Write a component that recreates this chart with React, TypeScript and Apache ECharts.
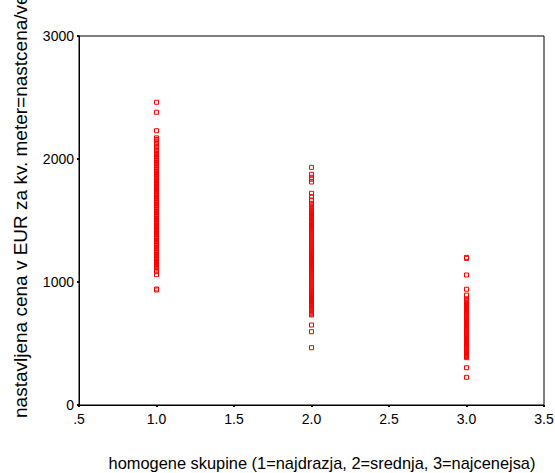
import React, { useEffect, useRef } from "react";
import * as echarts from "echarts";

const xTitle = "homogene skupine (1=najdrazja, 2=srednja, 3=najcenejsa)";
const yTitle = "nastavljena cena v EUR za kv. meter=nastcena/ve";

const xTickValues = [0.5, 1, 1.5, 2, 2.5, 3, 3.5];
const xTickLabels = [".5", "1.0", "1.5", "2.0", "2.5", "3.0", "3.5"];
const yTickValues = [0, 1000, 2000, 3000];
const yTickLabels = ["0", "1000", "2000", "3000"];

const groups = [1, 2, 3];

const group1Prices = [
  2461, 2380, 2230, 2172, 2158, 2147, 2131, 2122, 2105, 2097, 2081, 2069, 2058,
  2044, 2037, 2026, 2019, 2008, 2002, 1991, 1986, 1975, 1967, 1961, 1950, 1944,
  1933, 1927, 1917, 1911, 1900, 1894, 1884, 1875, 1869, 1858, 1852, 1841, 1836,
  1825, 1819, 1809, 1800, 1794, 1783, 1777, 1766, 1761, 1750, 1742, 1736, 1725,
  1719, 1708, 1703, 1692, 1684, 1678, 1667, 1661, 1650, 1645, 1634, 1625, 1619,
  1608, 1602, 1591, 1586, 1575, 1567, 1561, 1550, 1544, 1533, 1528, 1517, 1509,
  1503, 1492, 1486, 1475, 1470, 1459, 1450, 1444, 1433, 1427, 1416, 1411, 1400,
  1392, 1386, 1375, 1369, 1358, 1353, 1342, 1334, 1328, 1317, 1311, 1300, 1295,
  1284, 1275, 1269, 1258, 1252, 1241, 1236, 1225, 1217, 1211, 1200, 1194, 1183,
  1178, 1167, 1159, 1153, 1142, 1136, 1125, 1118, 1106, 1084, 1059, 943, 935,
];

const group2Prices = [
  1932, 1876, 1851, 1835, 1813, 1721, 1693, 1667, 1640, 1628, 1619, 1611, 1602,
  1594, 1583, 1577, 1566, 1558, 1550, 1541, 1533, 1525, 1516, 1501, 1492, 1484,
  1475, 1467, 1458, 1450, 1442, 1433, 1425, 1417, 1408, 1400, 1391, 1383, 1375,
  1366, 1358, 1350, 1341, 1333, 1325, 1316, 1308, 1300, 1291, 1283, 1275, 1266,
  1258, 1250, 1241, 1233, 1225, 1216, 1208, 1200, 1191, 1183, 1175, 1166, 1158,
  1150, 1141, 1133, 1125, 1116, 1108, 1100, 1091, 1083, 1075, 1066, 1058, 1050,
  1041, 1033, 1025, 1016, 1008, 1000, 991, 983, 975, 966, 958, 950, 941, 933,
  925, 916, 908, 900, 891, 883, 875, 866, 858, 850, 841, 835, 826, 818, 809, 805,
  797, 789, 780, 772, 764, 755, 747, 739, 732, 650, 596, 466,
];

const group3Prices = [
  1200, 1192, 1057, 941, 894, 862, 853, 847, 838, 831, 823, 816, 808, 800, 793,
  786, 777, 770, 762, 754, 747, 739, 731, 724, 716, 708, 701, 693, 685, 678, 670,
  662, 655, 647, 639, 632, 624, 616, 609, 601, 593, 586, 578, 570, 563, 555, 547,
  540, 532, 524, 517, 509, 501, 494, 486, 478, 471, 463, 455, 448, 440, 432, 425,
  417, 409, 402, 394, 385, 303, 225,
];

const FONT = "Arial, 'Liberation Sans', sans-serif";

export default function App() {
  const ref = useRef<HTMLDivElement>(null);

  useEffect(() => {
    if (!ref.current) return;
    const chart = echarts.init(ref.current, null, { renderer: "svg" });
    const allGroups = [group1Prices, group2Prices, group3Prices];
    const data: number[][] = [];
    allGroups.forEach((arr, i) => {
      arr.forEach((v) => data.push([groups[i], v]));
    });

    chart.setOption({
      animation: false,
      backgroundColor: "#ffffff",
      grid: {
        left: 79,
        top: 36,
        right: 11,
        bottom: 68,
        show: true,
        borderColor: "#000",
        borderWidth: 1,
        backgroundColor: "transparent",
        containLabel: false,
        outerBoundsMode: "none",
      },
      xAxis: {
        type: "value",
        min: 0.5,
        max: 3.5,
        interval: 0.5,
        splitLine: { show: false },
        axisLine: { show: true, lineStyle: { color: "#000", width: 1 } },
        axisTick: { show: true, length: 2, lineStyle: { color: "#000", width: 2 } },
        axisLabel: {
          color: "#000",
          fontSize: 14,
          fontFamily: FONT,
          margin: 7,
          formatter: (v: number) => {
            const idx = xTickValues.findIndex((t) => Math.abs(t - v) < 1e-9);
            return idx >= 0 ? xTickLabels[idx] : "";
          },
        },
      },
      yAxis: {
        type: "value",
        min: 0,
        max: 3000,
        interval: 1000,
        splitLine: { show: false },
        axisLine: { show: true, lineStyle: { color: "#000", width: 1 } },
        axisTick: { show: true, length: 2, lineStyle: { color: "#000", width: 2 } },
        axisLabel: {
          color: "#000",
          fontSize: 14,
          fontFamily: FONT,
          margin: 5,
          formatter: (v: number) => {
            const idx = yTickValues.indexOf(v);
            return idx >= 0 ? yTickLabels[idx] : "";
          },
        },
      },
      graphic: [
        {
          type: "text",
          x: 322,
          y: 463,
          style: {
            text: xTitle,
            fontSize: 16.4,
            fontFamily: FONT,
            fill: "#000",
            textAlign: "center",
            textVerticalAlign: "middle",
          },
        },
        {
          type: "text",
          x: 20,
          y: 418,
          rotation: Math.PI / 2,
          style: {
            text: yTitle,
            fontSize: 19,
            fontFamily: FONT,
            fill: "#000",
            textAlign: "left",
            textVerticalAlign: "middle",
          },
        },
      ],
      series: [
        {
          type: "scatter",
          data,
          symbol: "rect",
          symbolSize: 4,
          itemStyle: {
            color: "rgba(255,255,255,0)",
            borderColor: "#ff0000",
            borderWidth: 1,
            opacity: 1,
          },
          emphasis: { disabled: true },
        },
      ],
    });

    return () => chart.dispose();
  }, []);

  return (
    <div
      ref={ref}
      style={{ position: "fixed", left: 0, top: 0, width: 555, height: 473 }}
    />
  );
}
